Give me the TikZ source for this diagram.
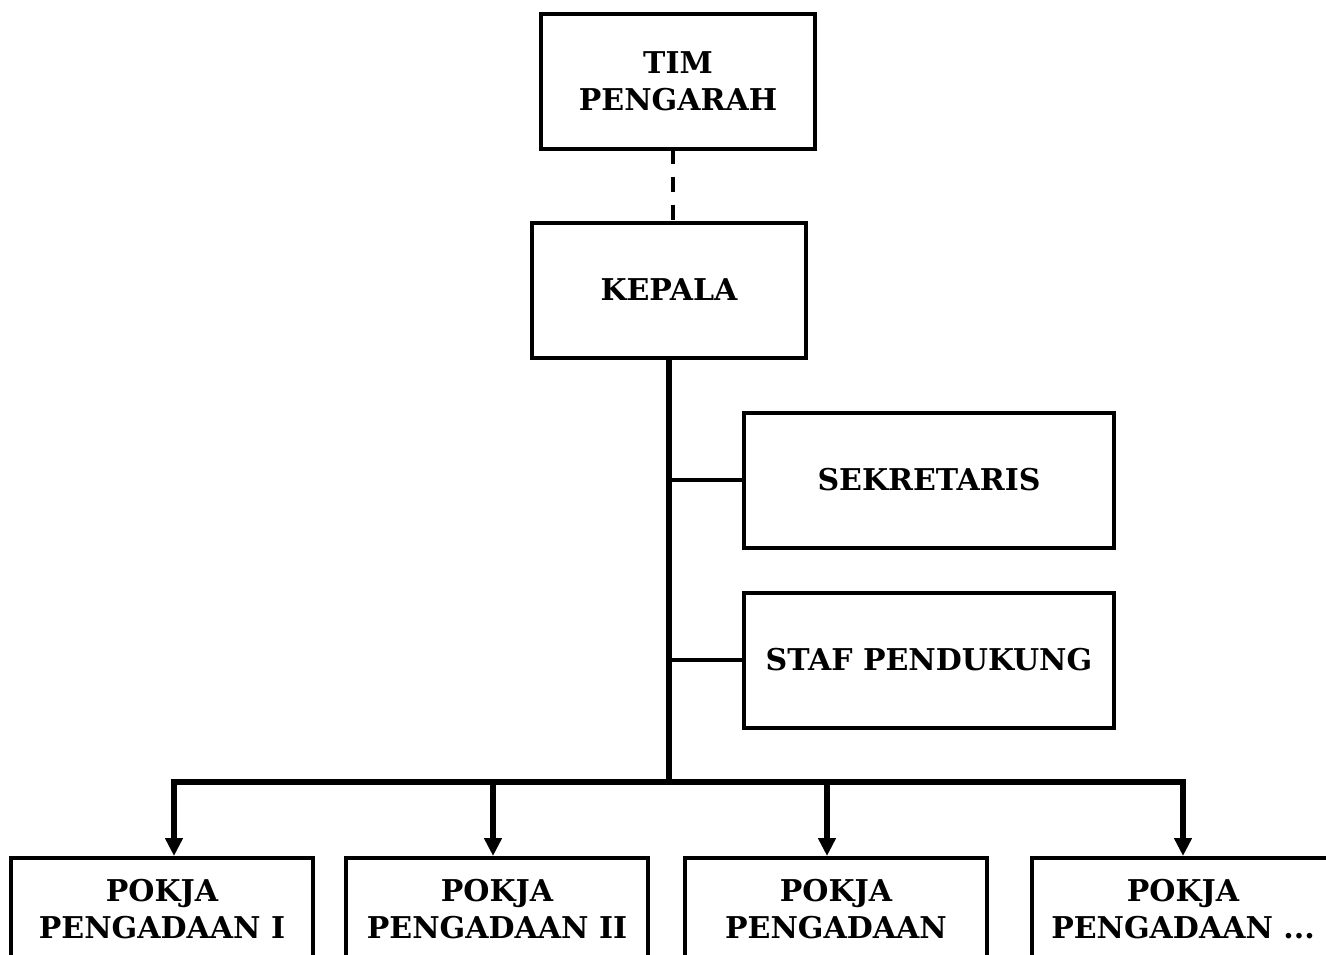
\documentclass[tikz,border=0pt]{standalone}
\usepackage{fontspec}
\setmainfont{DejaVu Serif}
\usetikzlibrary{arrows.meta, positioning, calc}

\begin{document}
\begin{tikzpicture}[
        x=1pt, y=-1pt,
        font=\bfseries\fontsize{30}{37}\selectfont,
        unitbox/.style={draw, line width=4pt, align=center, minimum width=274pt, minimum height=135pt},
        sidebox/.style={draw, line width=4pt, align=center, minimum width=370pt, minimum height=135pt},
        pokjabox/.style={draw, line width=4pt, align=center, minimum width=302pt, anchor=north, inner ysep=21pt, text depth=60pt},
        trunk/.style={line width=6pt},
        branch/.style={line width=4pt},
        down/.style={line width=6pt, -{Triangle[width=17pt,length=18pt]}}
    ]

    \useasboundingbox (0,0) rectangle (1326,954);
    \clip (0,0) rectangle (1326,954);

    % Top of the chart
    \node[unitbox] (tim) at (678,81) {TIM\\PENGARAH};
    \node[unitbox] (kepala) at (669,290) {KEPALA};
    \draw[line width=4pt, dash pattern=on 15pt off 13pt, dash phase=2pt]
        ($(tim.south)+(-5,0)$) -- ($(tim.south |- kepala.north)+(-5,0)$);

    % Staff boxes on the side
    \node[sidebox] (sekretaris) at (929,480) {SEKRETARIS};
    \node[sidebox] (staf) at (929,660) {STAF PENDUKUNG};

    % Working groups
    \node[pokjabox] (pokja1) at (162,856) {POKJA\\PENGADAAN I};
    \node[pokjabox] (pokja2) at (497,856) {POKJA\\PENGADAAN II};
    \node[pokjabox] (pokja3) at (836,856) {POKJA\\PENGADAAN};
    \node[pokjabox] (pokja4) at (1183,856) {POKJA\\PENGADAAN ...};

    % Main line and bus
    \coordinate (bus) at (669,782);
    \coordinate (a1) at (174,782);
    \coordinate (a2) at (493,782);
    \coordinate (a3) at (827,782);
    \coordinate (a4) at (1183,782);
    \draw[trunk] (kepala.south) -- (bus);
    \draw[branch] (sekretaris.west) -- (sekretaris.west -| kepala.south);
    \draw[branch] (staf.west) -- (staf.west -| kepala.south);
    \draw[trunk, line cap=rect] (a1) -- (a4);

    % Arrows down to the groups
    \draw[down] (a1) -- (a1 |- pokja1.north);
    \draw[down] (a2) -- (a2 |- pokja2.north);
    \draw[down] (a3) -- (a3 |- pokja3.north);
    \draw[down] (a4) -- (a4 |- pokja4.north);

\end{tikzpicture}
\end{document}
